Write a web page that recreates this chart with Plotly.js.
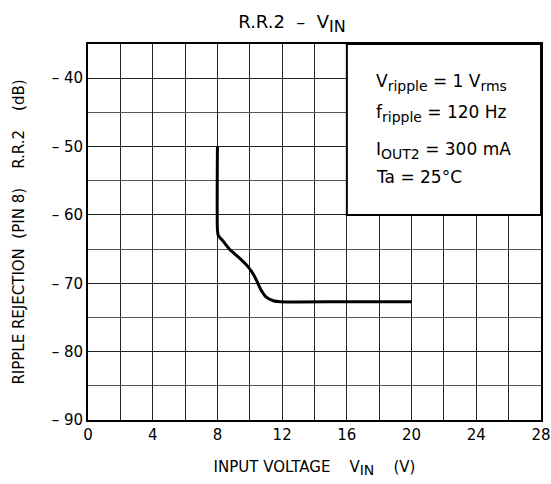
<!DOCTYPE html>
<html><head><meta charset="utf-8">
<script src="https://cdn.plot.ly/plotly-3.0.1.min.js"></script>
<style>html,body{margin:0;padding:0;background:#fff}#chart{width:551px;height:484px}</style>
</head><body><div id="chart"></div>
<script>
const vin = [8, 8, 8.05, 8.37, 8.78, 9.4, 9.9, 10.3, 10.7, 11.0, 11.45, 11.9, 16, 20];
const rr2 = [-50, -62.2, -63.0, -63.9, -65.1, -66.4, -67.6, -69.0, -71.0, -72.0, -72.55, -72.7, -72.7, -72.7];
const yTicks = [-90, -80, -70, -60, -50, -40];
const yLabels = ['– 90', '– 80', '– 70', '– 60', '– 50', '– 40'];
const xTicks = [0, 4, 8, 12, 16, 20, 24, 28];
const xLabels = ['0', '4', '8', '12', '16', '20', '24', '28'];
const NB = '\u00A0';
const sub = (t, s) => '<sub><span style="font-size:' + s + 'px">' + t + '</span></sub>';
const condLines = [
  'V' + sub('ripple', 14) + ' = 1 V' + sub('rms', 14),
  'f' + sub('ripple', 14) + ' = 120 Hz',
  'I' + sub('OUT2', 14) + ' = 300 mA',
  'Ta = 25°C'];
const condY = [-40.7, -45.2, -50.65, -54.5];

const font = 'DejaVu Sans, sans-serif';
const trace = {x: vin, y: rr2, mode: 'lines', line: {color: '#000', width: 3, shape: 'spline', smoothing: 0.6}, hoverinfo: 'skip'};
const layout = {
  width: 551, height: 484,
  margin: {l: 88, r: 10, t: 44, b: 64},
  paper_bgcolor: '#fff', plot_bgcolor: '#fff',
  showlegend: false,
  font: {family: font, color: '#000', size: 14},
  title: {text: 'R.R.2' + NB + NB + '–' + NB + NB + 'V' + sub('IN', 16), x: 0.53, xanchor: 'center', y: 0.955, yanchor: 'middle', font: {size: 18, family: font, color: '#000'}},
  xaxis: {range: [0, 28], tickvals: xTicks, ticktext: xLabels, showgrid: true, gridcolor: '#222', gridwidth: 1,
    minor: {dtick: 2, tick0: 0, showgrid: true, gridcolor: '#222', gridwidth: 1, ticks: ''},
    zeroline: false, showline: true, linecolor: '#000', linewidth: 2, mirror: true, ticks: '', ticklen: 0,
    tickfont: {size: 15}, fixedrange: true,
    title: {text: 'INPUT' + NB + 'VOLTAGE' + NB + NB + NB + NB + 'V' + sub('IN', 14) + NB + NB + NB + NB + '(V)', font: {size: 15}, standoff: 18}},
  yaxis: {range: [-90, -35], tickvals: yTicks, ticktext: yLabels, showgrid: true, gridcolor: '#222', gridwidth: 1,
    minor: {dtick: 5, tick0: -90, showgrid: true, gridcolor: '#555', gridwidth: 1, ticks: ''},
    zeroline: false, showline: true, linecolor: '#000', linewidth: 2, mirror: true, ticks: '', ticklen: 0,
    tickfont: {size: 15}, fixedrange: true,
    title: {text: 'RIPPLE' + NB + 'REJECTION' + NB + NB + '(PIN' + NB + '8)' + NB + NB + NB + NB + 'R.R.2' + NB + NB + NB + NB + '(dB)', font: {size: 15}, standoff: 23}},
  shapes: [{type: 'rect', xref: 'x', yref: 'y', x0: 16, x1: 28, y0: -60, y1: -35, fillcolor: '#fff', line: {color: '#000', width: 2}, layer: 'between'}],
  annotations: condLines.map((t, i) => ({text: t, xref: 'x', yref: 'y', x: 17.7, y: condY[i], xanchor: 'left', yanchor: 'middle', showarrow: false, font: {size: 17, family: font, color: '#000'}}))
};
Plotly.newPlot('chart', [trace], layout, {displayModeBar: false, staticPlot: true});
</script></body></html>
